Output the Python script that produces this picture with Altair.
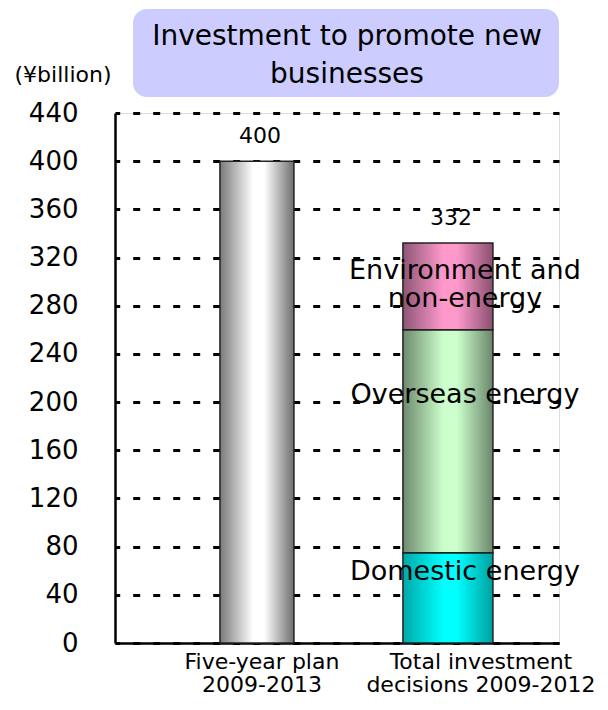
import altair as alt
import pandas as pd

# ---- data ----
categories = ["Five-year plan|2009-2013", "Total investment|decisions 2009-2012"]
plan_value = [400]
segments = ["Domestic energy", "Overseas energy", "Environment and|non-energy"]
segment_values = [75, 185, 72]
totals = [400, 332]
y_ticks = [0, 40, 80, 120, 160, 200, 240, 280, 320, 360, 400, 440]
title_text = "Investment to promote new|businesses"
unit_text = "(¥billion)"

FONT = "DejaVu Sans"
W, H = 444, 530

plan_df = pd.DataFrame({"cat": [categories[0]], "value": plan_value})
seg_df = pd.DataFrame({"cat": [categories[1]] * 3, "segment": segments,
                       "value": segment_values, "order": [0, 1, 2]})
tot_df = pd.DataFrame({"cat": categories, "total": totals})
one = pd.DataFrame({"title": [title_text], "unit": [unit_text]})

xscale = alt.Scale(domain=categories, paddingInner=0.5, paddingOuter=0.4125, align=0.598)
yscale = alt.Scale(domain=[0, 440], nice=False, zero=True)

xenc = alt.X("cat:N", scale=xscale, sort=categories, axis=alt.Axis(
    title=None, labelExpr="split(datum.value, '|')", labelFont=FONT, labelFontSize=22,
    labelColor="black", labelAngle=0, labelLineHeight=23, labelPadding=8, ticks=False,
    labelLimit=0, domainColor="black", domainWidth=2.5,
    labelOffset={"condition": {"test": f"datum.value == '{categories[1]}'", "value": 33}, "value": 5}))

yaxis = alt.Axis(values=y_ticks, title=None, grid=True, gridColor="black", gridWidth=3,
                 gridDash=[7, 13], gridDashOffset=2.3, ticks=False, domainColor="black",
                 domainWidth=2.5, labelFont=FONT, labelFontSize=26, labelColor="black",
                 labelPadding=37)


def grad(edge1, mid, edge2, mid_lo=0.45, mid_hi=0.6):
    return alt.LinearGradient(gradient="linear", x1=0, x2=1, y1=0, y2=0, stops=[
        alt.GradientStop(color=edge1, offset=0),
        alt.GradientStop(color=mid, offset=mid_lo),
        alt.GradientStop(color=mid, offset=mid_hi),
        alt.GradientStop(color=edge2, offset=1)])


gray_bar = alt.Chart(plan_df).mark_bar(
    width=74, color=grad("#7a7a7a", "#ffffff", "#6e6e6e"), stroke="#222", strokeWidth=1.5
).encode(x=xenc, y=alt.Y("value:Q", scale=yscale, axis=yaxis))

seg_colors = [("#00a8a8", "#00ffff", "#00a0a0"),
              ("#6e8a6e", "#ccffcc", "#6a866a"),
              ("#8e5575", "#ff99cc", "#8a5070")]
seg_dy = [-26, -46, -15]

stacked = alt.Chart(seg_df).transform_stack(
    stack="value", as_=["y0", "y1"], groupby=["cat"], sort=[alt.SortField("order")]
).transform_calculate(mid="(datum.y0 + datum.y1) / 2")

layers = [gray_bar]
for i, seg in enumerate(segments):
    base = stacked.transform_filter(alt.datum.segment == seg)
    layers.append(base.mark_bar(width=90, color=grad(*seg_colors[i]), stroke="#222",
                                strokeWidth=1.5).encode(
        x=alt.X("cat:N", scale=xscale, sort=categories),
        y=alt.Y("y0:Q", scale=yscale), y2="y1:Q"))
for i, seg in enumerate(segments):
    base = stacked.transform_filter(alt.datum.segment == seg)
    layers.append(base.mark_text(font=FONT, fontSize=27, color="black", dx=17,
                                 dy=seg_dy[i], lineBreak="|", lineHeight=28,
                                 baseline="middle").encode(
        x=alt.X("cat:N", scale=xscale, sort=categories),
        y=alt.Y("mid:Q", scale=yscale), text="segment:N"))

values_txt = alt.Chart(tot_df).mark_text(font=FONT, fontSize=22, color="black",
                                         baseline="alphabetic", dy=-18, dx=3).encode(
    x=alt.X("cat:N", scale=xscale, sort=categories),
    y=alt.Y("total:Q", scale=yscale), text="total:Q")

title_box = alt.Chart(one).mark_rect(color="#ccccff", cornerRadius=14).encode(
    x=alt.value(18), x2=alt.value(444), y=alt.value(-104), y2=alt.value(-16))
title_txt = alt.Chart(one).mark_text(font=FONT, fontSize=28, color="black", lineBreak="|",
                                     lineHeight=38, baseline="middle").encode(
    x=alt.value(232), y=alt.value(-76), text="title:N")
unit_txt = alt.Chart(one).mark_text(font=FONT, fontSize=22, color="black",
                                    baseline="middle").encode(
    x=alt.value(-52), y=alt.value(-38), text="unit:N")

chart = alt.layer(title_box, title_txt, unit_txt, *layers, values_txt).properties(
    width=W, height=H,
    autosize=alt.AutoSizeParams(type="none"),
    padding={"left": 107, "top": 105, "right": 41, "bottom": 58},
).configure_view(stroke="#333", strokeWidth=1.5).configure(background="white")

chart.save("out.html", embed_options={"renderer": "svg", "actions": False})
